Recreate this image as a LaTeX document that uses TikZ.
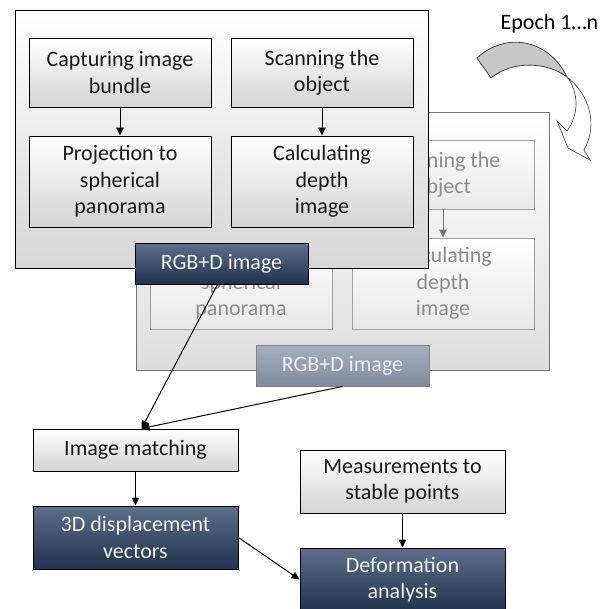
\documentclass[tikz,border=0pt]{standalone}
\usepackage{fontspec}
\setmainfont{Carlito}
\usetikzlibrary{arrows.meta,calc}
\definecolor{darktop}{HTML}{5E6E8B}
\definecolor{darkbot}{HTML}{22314C}
\definecolor{fadetop}{HTML}{A6B0BF}
\definecolor{fadebot}{HTML}{7F8A9B}
\definecolor{fadetext}{HTML}{8C8C8C}
\definecolor{fadeline}{HTML}{A0A0A0}
\begin{document}
\begin{tikzpicture}[x=1pt,y=-1pt,
  every node/.style={font=\fontsize{22}{26.4}\selectfont, inner sep=0pt, align=center, rectangle},
  panel/.style={draw=black, line width=1pt, top color=white, bottom color=black!16, minimum width=413pt, minimum height=258pt},
  fadepanel/.style={draw=black!55, line width=0.9pt, top color=white, bottom color=black!13, minimum width=413pt, minimum height=258pt},
  lightbox/.style={draw=black, line width=1pt, top color=white, bottom color=black!17, text=black!90},
  fadebox/.style={draw=fadeline, line width=0.9pt, top color=white, bottom color=black!9, text=fadetext},
  darkbox/.style={draw=black, line width=1pt, top color=darktop, bottom color=darkbot, text=white!94!black},
  fadedark/.style={draw=black!50, line width=0.9pt, top color=fadetop, bottom color=fadebot, text=white!94!black},
  conn/.style={-{Triangle[length=8pt,width=7.5pt]}, line width=1pt, black},
  fadeconn/.style={-{Triangle[length=8pt,width=7.5pt]}, line width=1pt, black!55}
]
\clip (0,0) rectangle (609,608);

% curved epoch arrow
\node (epoch) at (549.5,24) {Epoch 1…n};
\path[fill=black!22, draw=black!75, line width=0.8pt]
  (477,58) .. controls (505,32) and (548,38) .. (567,77)
  .. controls (548,62) and (512,60) .. (491,78) -- cycle;
\path[fill=white, draw=black!70, line width=0.7pt]
  (567,77) .. controls (579,92) and (579,115) .. (567,131)
  -- (557,121) -- (568,148) -- (590,160) -- (584,150)
  .. controls (598,125) and (590,95) .. (567,77) -- cycle;

% back (faded) panel
\node[fadepanel] (bpanel) at (342.5,241) {};
\node[fadebox, minimum width=182pt, minimum height=69pt] (bscan) at (443,174.5) {Scanning the\\object};
\node[fadebox, minimum width=182pt, minimum height=91pt] (bcalc) at (443,283.5) {Calculating\\depth\\image};
\node[fadebox, minimum width=182pt, minimum height=91pt] (bproj) at (241,283.5) {Projection to\\spherical\\panorama};
\draw[fadeconn] (bscan) -- (bcalc);
\node[fadedark, minimum width=173pt, minimum height=41pt] (rgbb) at (342.5,365.5) {RGB+D image};

% front panel
\node[panel] (fpanel) at (221.5,139) {};
\node[lightbox, minimum width=182pt, minimum height=69pt] (cap) at (120,72.5) {Capturing image\\bundle};
\node[lightbox, minimum width=182pt, minimum height=91pt] (proj) at (120,181.5) {Projection to\\spherical\\panorama};
\node[lightbox, minimum width=182pt, minimum height=69pt] (scan) at (322,72.5) {Scanning the\\object};
\node[lightbox, minimum width=182pt, minimum height=91pt] (calc) at (322,181.5) {Calculating\\depth\\image};
\draw[conn] (cap) -- (proj);
\draw[conn] (scan) -- (calc);
\node[darkbox, minimum width=173pt, minimum height=41pt] (rgbf) at (221.5,263.5) {RGB+D image};

% bottom part
\node[lightbox, minimum width=205pt, minimum height=42pt] (match) at (135.5,450) {Image matching};
\node[darkbox, minimum width=205pt, minimum height=63pt] (disp) at (135.5,537.5) {3D displacement\\vectors};
\node[lightbox, minimum width=205pt, minimum height=63pt] (meas) at (402.5,481.5) {Measurements to\\stable points};
\node[darkbox, minimum width=205pt, minimum height=63pt] (def) at (402.5,579.5) {Deformation\\analysis};

\coordinate (mtop) at ($(match.north)+(6,0)$);
\coordinate (fstart) at ($(rgbf.south)+(-4,0)$);
\draw[conn] (fstart) -- (mtop);
\draw[conn] (rgbb.south) -- (mtop);
\draw[conn] (match) -- (disp);
\draw[conn] (meas) -- (def);
\draw[conn] (disp.east) -- (def.west);
\end{tikzpicture}
\end{document}
